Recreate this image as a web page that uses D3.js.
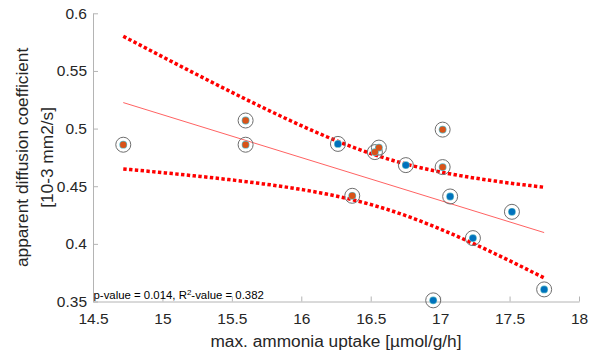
<!DOCTYPE html>
<html>
<head>
<meta charset="utf-8">
<script src="https://cdn.jsdelivr.net/npm/d3@7"></script>
<style>
  html, body { margin: 0; padding: 0; background: #fff; }
  svg { display: block; font-family: "Liberation Sans", Arial, sans-serif; }
</style>
</head>
<body>
<svg id="chart" width="598" height="356"></svg>
<script>
// Ammonia uptake (x) against apparent diffusion coefficient (y), per sample
const uptake = [14.718, 15.599, 15.599, 16.264, 16.559, 16.530, 16.753, 17.018,
                17.018, 16.367, 17.072, 17.517, 17.236, 17.749, 16.950];
const adc    = [0.4860, 0.5070, 0.4860, 0.4867, 0.4835, 0.4796, 0.4683, 0.4991,
                0.4666, 0.4417, 0.4411, 0.4278, 0.4050, 0.3605, 0.3510];
const group  = ["a", "a", "a", "b", "a", "a", "b", "a",
                "a", "a", "b", "b", "b", "b", "b"];

const xTicks = [14.5, 15, 15.5, 16, 16.5, 17, 17.5, 18];
const yTicks = [0.35, 0.4, 0.45, 0.5, 0.55, 0.6];
const statsText = { p: "0.014", r2: "0.382" };
const tCrit = 2.160; // two-sided 95 %, 13 degrees of freedom

const svg = d3.select("#chart");
const x = d3.scaleLinear().domain([14.5, 18]).range([93, 579]);
const y = d3.scaleLinear().domain([0.35, 0.6]).range([301.5, 13.3]);

const axisColor = "#b4b4b4";
const textColor = "#262626";

// Axes (ticks pointing into the plot)
const gx = svg.append("g").attr("transform", `translate(0,${y(0.35)})`)
  .call(d3.axisBottom(x).tickValues(xTicks).tickFormat(String)
    .tickSizeInner(-5).tickSizeOuter(0).tickPadding(11.5));
const gy = svg.append("g").attr("transform", `translate(${x(14.5)},0)`)
  .call(d3.axisLeft(y).tickValues(yTicks).tickFormat(String)
    .tickSizeInner(-5).tickSizeOuter(0).tickPadding(6));
[gx, gy].forEach(g => {
  g.select(".domain").attr("stroke", axisColor).attr("stroke-width", 1);
  g.selectAll(".tick line").attr("stroke", axisColor).attr("stroke-width", 1);
  g.selectAll(".tick text").attr("fill", textColor)
    .style("font-size", "15.5px").style("font-family", "Liberation Sans, Arial, sans-serif");
});

// Axis titles
svg.append("text")
  .attr("x", (x(14.5) + x(18)) / 2).attr("y", 346.5)
  .attr("text-anchor", "middle").attr("fill", textColor)
  .style("font-size", "17.3px")
  .text("max. ammonia uptake [µmol/g/h]");

const yTitle = svg.append("text")
  .attr("transform", `translate(0,${(y(0.35) + y(0.6)) / 2}) rotate(-90)`)
  .attr("text-anchor", "middle").attr("fill", textColor)
  .style("font-size", "17.3px");
yTitle.append("tspan").attr("x", 0).attr("y", 28).text("apparent diffusion coefficient");
yTitle.append("tspan").attr("x", 0).attr("y", 53).text("[10-3 mm2/s]");

// Least-squares fit and 95 % confidence band of the mean
const n = uptake.length;
const mx = d3.mean(uptake), my = d3.mean(adc);
const sxx = d3.sum(uptake, v => (v - mx) ** 2);
const sxy = d3.sum(uptake, (v, i) => (v - mx) * (adc[i] - my));
const slope = sxy / sxx;
const icpt = my - slope * mx;
const sse = d3.sum(uptake, (v, i) => (adc[i] - (icpt + slope * v)) ** 2);
const s = Math.sqrt(sse / (n - 2));
const [xMin, xMax] = d3.extent(uptake);
const fitAt = v => icpt + slope * v;
const halfAt = v => tCrit * s * Math.sqrt(1 / n + (v - mx) ** 2 / sxx);
const grid = d3.range(0, 61).map(k => xMin + (xMax - xMin) * k / 60);

const line = d3.line().x(d => x(d[0])).y(d => y(d[1]));

svg.append("path")
  .datum(grid.map(v => [v, fitAt(v) + halfAt(v)]))
  .attr("d", line).attr("fill", "none").attr("stroke", "#ff0000")
  .attr("stroke-width", 3.5).attr("stroke-dasharray", "3.4,2.4");
svg.append("path")
  .datum(grid.map(v => [v, fitAt(v) - halfAt(v)]))
  .attr("d", line).attr("fill", "none").attr("stroke", "#ff0000")
  .attr("stroke-width", 3.5).attr("stroke-dasharray", "3.4,2.4");
svg.append("path")
  .datum([[xMin, fitAt(xMin)], [xMax, fitAt(xMax)]])
  .attr("d", line).attr("fill", "none").attr("stroke", "#ff5050")
  .attr("stroke-width", 0.9);

// Samples: grey ring, coloured marker
const pts = uptake.map((v, i) => ({ u: v, a: adc[i], g: group[i] }));
const colour = { a: "#D95319", b: "#0072BD" };
const pg = svg.append("g");
pg.selectAll("circle.ring").data(pts).join("circle")
  .attr("class", "ring")
  .attr("cx", d => x(d.u)).attr("cy", d => y(d.a)).attr("r", 7.5)
  .attr("fill", "none").attr("stroke", "#6e6e6e").attr("stroke-width", 1);
pg.selectAll("circle.base").data(pts).join("circle")
  .attr("class", "base")
  .attr("cx", d => x(d.u)).attr("cy", d => y(d.a)).attr("r", 3.9)
  .attr("fill", "#5cb8c6");
pg.selectAll("circle.dot").data(pts).join("circle")
  .attr("class", "dot")
  .attr("cx", d => x(d.u)).attr("cy", d => y(d.a)).attr("r", 3.2)
  .attr("fill", d => colour[d.g]);

// Fit statistics
const st = svg.append("text")
  .attr("x", x(14.5) + 0.5).attr("y", 299)
  .attr("fill", "#000").style("font-size", "11.4px");
st.append("tspan").text(`p-value = ${statsText.p}, R`);
st.append("tspan").attr("dy", -4).style("font-size", "8px").text("2");
st.append("tspan").attr("dy", 4).text(`-value = ${statsText.r2}`);
</script>
</body>
</html>
